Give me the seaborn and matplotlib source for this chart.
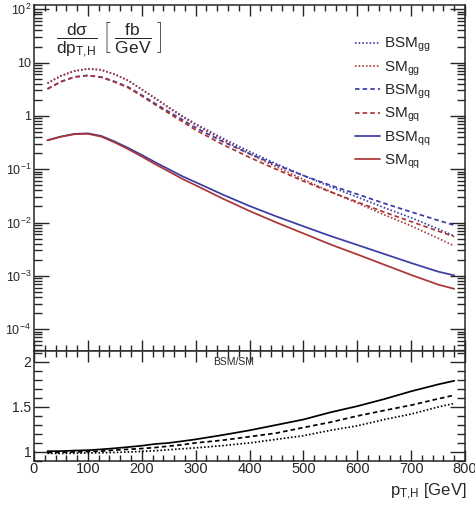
import numpy as np
import pandas as pd
import matplotlib
matplotlib.use("Agg")
import matplotlib.pyplot as plt
import seaborn as sns
from matplotlib.ticker import FixedLocator, LogLocator, MultipleLocator, FuncFormatter, NullFormatter

# ---------------- data ----------------
pt = [25, 50, 75, 100, 125, 150, 175, 200, 225, 250, 275, 300, 350, 400,
      450, 500, 550, 600, 650, 700, 750, 780]

bsm_gg = [4.07, 5.6, 6.9, 7.6, 7.25, 6.0, 4.6, 3.15, 2.15, 1.45, 1.0, 0.71, 0.38, 0.214,
          0.126, 0.076, 0.047, 0.030, 0.019, 0.0123, 0.0076, 0.0056]
sm_gg = [4.13, 5.69, 7.0, 7.68, 7.32, 6.03, 4.6, 3.13, 2.12, 1.415, 0.966, 0.679, 0.355, 0.1945,
         0.1105, 0.0644, 0.0379, 0.02326, 0.01397, 0.00866, 0.00507, 0.00364]
bsm_gq = [3.2, 4.37, 5.37, 5.75, 5.35, 4.4, 3.47, 2.45, 1.7, 1.2, 0.85, 0.60, 0.33, 0.195,
          0.12, 0.076, 0.050, 0.034, 0.0229, 0.0158, 0.011, 0.0089]
sm_gq = [3.22, 4.39, 5.37, 5.72, 5.30, 4.31, 3.37, 2.36, 1.62, 1.127, 0.787, 0.545, 0.292, 0.1667,
         0.0992, 0.0598, 0.0376, 0.0243, 0.01568, 0.0104, 0.00692, 0.00546]
bsm_qq = [0.35, 0.41, 0.46, 0.47, 0.42, 0.33, 0.25, 0.185, 0.135, 0.10, 0.074, 0.057, 0.0335, 0.0204,
          0.013, 0.0085, 0.0056, 0.0038, 0.00257, 0.00174, 0.0012, 0.00102]
sm_qq = [0.347, 0.406, 0.453, 0.461, 0.408, 0.317, 0.237, 0.173, 0.124, 0.0909, 0.0661, 0.050, 0.0282, 0.01645,
         0.0100, 0.00625, 0.00389, 0.00252, 0.00162, 0.00104, 0.000686, 0.00057]

labels = [r"BSM$_{\mathrm{gg}}$", r"SM$_{\mathrm{gg}}$", r"BSM$_{\mathrm{gq}}$",
          r"SM$_{\mathrm{gq}}$", r"BSM$_{\mathrm{qq}}$", r"SM$_{\mathrm{qq}}$"]

# ---------------- style ----------------
sns.set_style("ticks")
plt.rcParams["font.family"] = ["Liberation Sans", "DejaVu Sans"]
plt.rcParams["mathtext.fontset"] = "custom"
plt.rcParams["mathtext.rm"] = "Liberation Sans"
plt.rcParams["mathtext.it"] = "Liberation Sans:italic"
plt.rcParams["mathtext.bf"] = "Liberation Sans:bold"
plt.rcParams["axes.linewidth"] = 1.1

BLUE = "#3b3ba6"
RED = "#ab3535"
DOT = (0, (0.9, 1.2))
DASH = (0, (2.6, 1.8))

W, H = 475, 509
fig = plt.figure(figsize=(W / 100, H / 100), dpi=100)
L, R = 34, 465
ax1 = fig.add_axes([L / W, 1 - 351 / H, (R - L) / W, (351 - 5) / H])
ax2 = fig.add_axes([L / W, 1 - 461 / H, (R - L) / W, (461 - 351) / H])

series = [
    (bsm_gg, BLUE, DOT), (sm_gg, RED, DOT),
    (bsm_gq, BLUE, DASH), (sm_gq, RED, DASH),
    (bsm_qq, BLUE, "-"), (sm_qq, RED, "-"),
]
for (vals, col, ls), lab in zip(series, labels):
    df = pd.DataFrame({"pt": pt, "v": vals})
    sns.lineplot(data=df, x="pt", y="v", ax=ax1, color=col, linestyle=ls,
                 lw=1.25, label=lab, legend=False)

ax1.set_yscale("log")
ax1.set_xlim(0, 800)
ax1.set_ylim(10 ** -4.41, 10 ** 2.08)
ax1.set_xlabel("")
ax1.set_ylabel("")


def logfmt(v, pos):
    e = int(round(np.log10(v)))
    if e == 0:
        return "1"
    if e == 1:
        return "10"
    return r"$10^{%d}$" % e


ax1.yaxis.set_major_locator(FixedLocator([1e-4, 1e-3, 1e-2, 1e-1, 1, 10, 100]))
ax1.yaxis.set_major_formatter(FuncFormatter(logfmt))
ax1.yaxis.set_minor_locator(LogLocator(base=10, subs=np.arange(2, 10), numticks=20))
ax1.yaxis.set_minor_formatter(NullFormatter())
ax1.xaxis.set_major_locator(MultipleLocator(100))
ax1.xaxis.set_minor_locator(MultipleLocator(20))
ax1.tick_params(which="both", direction="in", top=True, right=True,
                labelbottom=False, width=1.0)
ax1.tick_params(axis="y", which="major", length=11, labelsize=9, pad=2)
ax1.tick_params(axis="y", which="minor", length=6)
ax1.tick_params(axis="x", which="major", length=8)
ax1.tick_params(axis="x", which="minor", length=4)

leg = ax1.legend(loc="upper left", bbox_to_anchor=(0.745, 0.91), frameon=False,
                 fontsize=11, handlelength=1.6, handletextpad=0.3,
                 labelspacing=0.33, borderpad=0, borderaxespad=0)

ax1.text(0.05, 0.9,
         r"$\dfrac{\mathrm{d\sigma}}{\mathrm{dp}_{\mathrm{T{,}H}}}\ \left[\ \dfrac{\mathrm{fb}}{\mathrm{GeV}}\ \right]$",
         transform=ax1.transAxes, ha="left", va="center", fontsize=12.5)

# ---------------- ratio panel ----------------
ratios = [
    (np.array(bsm_gg) / np.array(sm_gg), DOT),
    (np.array(bsm_gq) / np.array(sm_gq), DASH),
    (np.array(bsm_qq) / np.array(sm_qq), "-"),
]
for r, ls in ratios:
    sns.lineplot(x=pt, y=r, ax=ax2, color="black", linestyle=ls, lw=1.25)

ax2.set_xlim(0, 800)
ax2.set_ylim(0.9, 2.12)
ax2.yaxis.set_major_locator(FixedLocator([1, 1.5, 2]))
ax2.yaxis.set_major_formatter(FuncFormatter(lambda v, p: "%g" % v))
ax2.yaxis.set_minor_locator(MultipleLocator(0.1))
ax2.xaxis.set_major_locator(MultipleLocator(100))
ax2.xaxis.set_minor_locator(MultipleLocator(20))
ax2.tick_params(which="both", direction="in", top=True, right=True, width=1.0)
ax2.tick_params(axis="y", which="major", length=11, labelsize=10, pad=2)
ax2.tick_params(axis="y", which="minor", length=6)
ax2.tick_params(axis="x", which="major", length=8, labelsize=10.5, pad=1)
ax2.tick_params(axis="x", which="minor", length=4)
ax2.set_xlabel("")
ax2.set_ylabel("")
ax2.text(0.463, 0.9, "BSM/SM", transform=ax2.transAxes, ha="center", va="center",
         fontsize=7.5)

fig.text(466 / W, 1 - 482 / H, r"p$_{\mathrm{T{,}H}}$ [GeV]", ha="right", va="top",
         fontsize=12)

fig.savefig("out.png", dpi=100)
